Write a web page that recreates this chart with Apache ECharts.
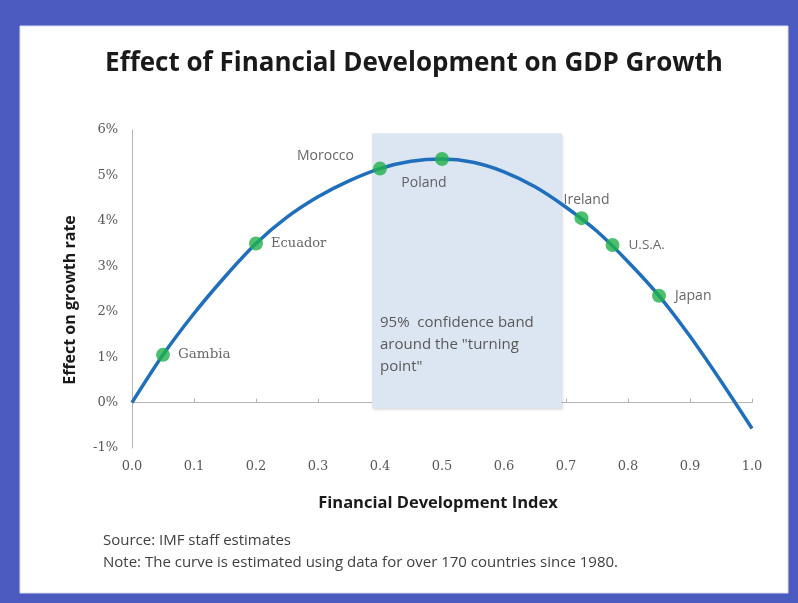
<!DOCTYPE html>
<html><head><meta charset="utf-8">
<script src="https://cdn.jsdelivr.net/npm/echarts@6/dist/echarts.min.js"></script>
<style>html,body{margin:0;padding:0;background:#4b5bbf}#c{width:798px;height:603px}</style>
</head><body><div id="c"></div>
<script>
// ---- data ----
const curveX = [0, 0.05, 0.1, 0.15, 0.2, 0.25, 0.3, 0.35, 0.4, 0.45, 0.5, 0.55, 0.6, 0.65, 0.7, 0.75, 0.8, 0.85, 0.9, 0.95, 1.0];
const curveY = [0, 1.05, 1.96, 2.77, 3.5, 4.08, 4.53, 4.88, 5.15, 5.31, 5.36, 5.29, 5.08, 4.75, 4.3, 3.77, 3.1, 2.35, 1.46, 0.47, -0.57];
const countries = ['Gambia', 'Ecuador', 'Morocco', 'Poland', 'Ireland', 'U.S.A.', 'Japan'];
const countryX = [0.05, 0.2, 0.4, 0.5, 0.725, 0.775, 0.85];
const countryY = [1.05, 3.5, 5.15, 5.36, 4.06, 3.47, 2.35];
const xTickLabels = ['0.0', '0.1', '0.2', '0.3', '0.4', '0.5', '0.6', '0.7', '0.8', '0.9', '1.0'];
const yTickLabels = ['-1%', '0%', '1%', '2%', '3%', '4%', '5%', '6%'];
const bandX = [0.387, 0.693];
const bandY = [-0.13, 5.93];

// ---- label styling per country (styles kept out of data) ----
const serif = 'DejaVu Serif';
const sans = 'Open Sans';
const labelStyle = {
  'Gambia':  {position: 'right', distance: 8, fontFamily: serif, fontSize: 13.5},
  'Ecuador': {position: 'right', distance: 8, fontFamily: serif, fontSize: 13},
  'Morocco': {position: 'left', distance: 19, offset: [0, -13], fontFamily: sans, fontSize: 14},
  'Poland':  {position: 'bottom', distance: 10, offset: [-18, 0], fontFamily: sans, fontSize: 14},
  'Ireland': {position: 'top', distance: 4, offset: [5, 0], fontFamily: sans, fontSize: 14},
  'U.S.A.':  {position: 'right', distance: 9, fontFamily: sans, fontSize: 13.5},
  'Japan':   {position: 'right', distance: 9, fontFamily: sans, fontSize: 14}
};

const chart = echarts.init(document.getElementById('c'), null, {renderer: 'canvas'});
const gridL = 132, gridT = 130, gridW = 620, gridH = 318;

const option = {
  backgroundColor: '#4b5bbf',
  animation: false,
  graphic: [
    {type: 'rect', z: -10, shape: {x: 20, y: 26, width: 768, height: 567}, style: {fill: '#ffffff', stroke: '#d9dcef', lineWidth: 1}},
    {type: 'text', x: 414, y: 64, z: 10,
      style: {text: 'Effect of Financial Development on GDP Growth', fontFamily: sans, fontWeight: 'bold', fontSize: 26, fill: '#1a1a1a', align: 'center', verticalAlign: 'middle'}},
    {type: 'text', x: 70, y: 300, rotation: Math.PI / 2, z: 10,
      style: {text: 'Effect on growth rate', fontFamily: sans, fontWeight: 'bold', fontSize: 16, fill: '#1a1a1a', align: 'center', verticalAlign: 'middle'}},
    {type: 'text', x: 438, y: 503, z: 10,
      style: {text: 'Financial Development Index', fontFamily: sans, fontWeight: 'bold', fontSize: 16.5, fill: '#1a1a1a', align: 'center', verticalAlign: 'middle'}},
    {type: 'text', x: 380, y: 345, z: 10,
      style: {text: '95%  confidence band\naround the "turning\npoint"', fontFamily: sans, fontSize: 15, lineHeight: 22, fill: '#595959', align: 'left', verticalAlign: 'middle'}},
    {type: 'text', x: 103, y: 541, z: 10,
      style: {text: 'Source: IMF staff estimates', fontFamily: sans, fontSize: 15, fill: '#404040', verticalAlign: 'middle'}},
    {type: 'text', x: 103, y: 563, z: 10,
      style: {text: 'Note: The curve is estimated using data for over 170 countries since 1980.', fontFamily: sans, fontSize: 15, fill: '#404040', verticalAlign: 'middle'}}
  ],
  grid: {left: gridL, top: gridT, width: gridW, height: gridH, containLabel: false},
  xAxis: [
    {type: 'value', min: 0, max: 1, interval: 0.1,
      axisLine: {show: false, onZero: false}, axisTick: {show: false}, splitLine: {show: false},
      axisLabel: {margin: 12, fontFamily: serif, fontSize: 13, color: '#595959',
        formatter: (v) => xTickLabels[Math.round(v * 10)]}},
    {type: 'value', min: 0, max: 1, interval: 0.1, position: 'bottom',
      axisLine: {show: true, onZero: true, lineStyle: {color: '#b3b3b3', width: 1}},
      axisTick: {show: true, inside: true, length: 4, lineStyle: {color: '#b3b3b3'}},
      axisLabel: {show: false}, splitLine: {show: false}}
  ],
  yAxis: {type: 'value', min: -1, max: 6, interval: 1,
    axisLine: {show: true, lineStyle: {color: '#b3b3b3', width: 1}}, axisTick: {show: false}, splitLine: {show: false},
    axisLabel: {margin: 14, fontFamily: serif, fontSize: 13, color: '#595959',
      formatter: (v) => yTickLabels[Math.round(v) + 1]}},
  series: [
    {type: 'line', data: [], z: 1, silent: true,
      markArea: {silent: true,
        itemStyle: {color: '#dce6f2', shadowColor: 'rgba(0,0,0,0.18)', shadowBlur: 3, shadowOffsetX: 1, shadowOffsetY: 2},
        data: [[{coord: [bandX[0], bandY[1]]}, {coord: [bandX[1], bandY[0]]}]]}},
    {type: 'line', smooth: 0.25, symbol: 'none', z: 3,
      lineStyle: {color: '#1f6fbd', width: 3.5},
      data: curveX.map((x, i) => [x, curveY[i]])},
    {type: 'scatter', z: 5, symbolSize: 14,
      itemStyle: {color: '#1fb04a'},
      data: countries.map((name, i) => {
        const s = labelStyle[name];
        return {name: name, value: [countryX[i], countryY[i]],
          label: Object.assign({show: true, formatter: name, color: '#404040'}, s)};
      })}
  ]
};
chart.setOption(option);
</script></body></html>
